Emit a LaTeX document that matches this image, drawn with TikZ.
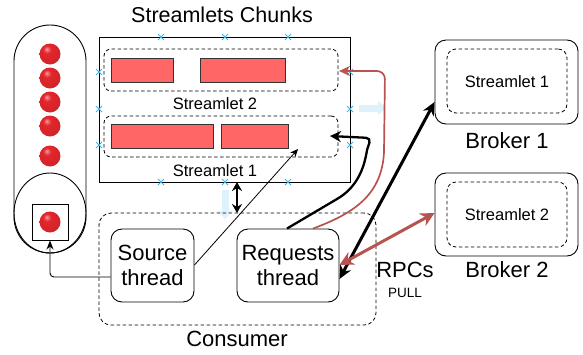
\documentclass[tikz,border=0pt]{standalone}
\usepackage{fontspec}
\setmainfont{Liberation Sans}
\usetikzlibrary{arrows.meta,shapes.geometric,shapes.misc}
\definecolor{rpcred}{HTML}{B85450}
\definecolor{chunkred}{HTML}{FF6666}
\definecolor{ballred}{HTML}{E3262C}
\definecolor{markblue}{HTML}{3DB4EC}
\definecolor{hintblue}{HTML}{DDF2FA}
\pgfdeclareradialshading{redball}{\pgfpoint{-8bp}{12bp}}{%
  color(0bp)=(white!55!ballred); color(9bp)=(ballred); color(30bp)=(ballred!92!black);
  color(50bp)=(ballred!70!black); color(70bp)=(ballred!60!black)}
\begin{document}
\begin{tikzpicture}[x=1pt,y=-1pt,
  txtL/.style={font=\fontsize{22}{25}\selectfont, align=center},
  txtM/.style={font=\fontsize{16.5}{19}\selectfont},
  chunk/.style={draw=black!80, fill=chunkred, line width=1pt, minimum height=24pt, inner sep=0pt},
  dbox/.style={draw, dash pattern=on 3.5pt off 2.5pt, line width=0.8pt, rounded corners=7pt, inner sep=0pt},
  thread/.style={draw, line width=0.9pt, rounded corners=11pt, inner sep=0pt, txtL},
  broker/.style={draw, line width=0.9pt, rounded corners=11pt, inner sep=0pt, minimum width=143pt},
  ball/.style={circle, shading=redball, minimum size=21pt, inner sep=0pt},
  xmark/.style={cross out, draw=markblue, line width=1pt, minimum size=5pt, inner sep=0pt},
  hint/.style={draw=hintblue, line width=7pt, -{Triangle[length=8pt,width=14pt]}},
  blkb/.style={line width=3pt, {Stealth[length=13pt,width=12pt]}-{Stealth[length=13pt,width=12pt]}},
  redb/.style={rpcred, line width=3pt, {Stealth[length=14pt,width=14pt]}-{Stealth[length=14pt,width=14pt]}},
]
\useasboundingbox (0,0) rectangle (583,354);

% left capsule (source)
\node[draw, line width=0.9pt, rounded corners=36pt, minimum width=72pt, minimum height=228pt, inner sep=0pt] (caps) at (50,139) {};
\node[draw, ellipse, line width=0.9pt, minimum width=72pt, minimum height=80pt, inner sep=0pt] (circ) at (50,213) {};
\node[draw, line width=1pt, minimum width=36pt, minimum height=36pt, inner sep=0pt] (sq) at (50,222) {};
\node[ball] (b1) at (50,54) {};
\node[ball] (b2) at (50,78) {};
\node[ball] (b3) at (50,102) {};
\node[ball] (b4) at (50,126) {};
\node[ball] (b5) at (50,156) {};
\node[ball] (b6) at (50,222) {};

% streamlets chunks
\node[txtL, font=\fontsize{21.5}{24}\selectfont] (title) at (222,15) {Streamlets Chunks};
\node[draw, line width=0.9pt, minimum width=251pt, minimum height=145pt, inner sep=0pt] (chunks) at (224.5,109.5) {};
\node[dbox, minimum width=234pt, minimum height=42pt] (s2) at (221,70) {};
\node[chunk, minimum width=62pt] (c21) at (142,70) {};
\node[chunk, minimum width=85pt] (c22) at (242.5,70) {};
\node[txtM] (s2lab) at (215,104) {Streamlet 2};
\node[dbox, minimum width=234pt, minimum height=41pt] (s1) at (221,136.5) {};
\node[chunk, minimum width=102pt] (c11) at (162,136) {};
\node[chunk, minimum width=67pt] (c12) at (254.5,136) {};
\node[txtM] (s1lab) at (215,171) {Streamlet 1};

% connection markers
\foreach \i/\x in {1/161,2/225,3/288} {
  \node[xmark] (mt\i) at (\x,37) {};
  \node[xmark] (mb\i) at (\x,182) {};
}
\foreach \i/\y in {1/72,2/109,3/145} {
  \node[xmark] (ml\i) at (99,\y) {};
  \node[xmark] (mr\i) at (350,\y) {};
}
\coordinate (hd1) at (225,190);
\coordinate (hd2) at (225,219);
\coordinate (hr1) at (359,108);
\coordinate (hr2) at (386,108);
\draw[hint] (hd1) -- (hd2);
\draw[hint] (hr1) -- (hr2);

% consumer
\node[dbox, rounded corners=12pt, minimum width=277pt, minimum height=112pt] (cons) at (237.5,269) {};
\node[txtL] (conslab) at (237,339) {Consumer};
\node[thread, minimum width=83pt, minimum height=73pt] (src) at (152.5,265.5) {Source\\thread};
\node[thread, minimum width=102pt, minimum height=73pt] (req) at (288,265.5) {Requests\\thread};

% brokers
\node[broker, minimum height=84pt] (br1) at (506.5,82) {};
\node[dbox, rounded corners=9pt, minimum width=120pt, minimum height=64pt] (br1s) at (507,81) {};
\node[txtM] (br1t) at (507,82) {Streamlet 1};
\node[txtL] (br1lab) at (507,141) {Broker 1};
\node[broker, minimum height=83pt] (br2) at (506.5,214.5) {};
\node[dbox, rounded corners=9pt, minimum width=120pt, minimum height=65pt] (br2s) at (507,214.5) {};
\node[txtM] (br2t) at (507,215) {Streamlet 2};
\node[txtL] (br2lab) at (507,270) {Broker 2};
\node[txtL] (rpc) at (405,270) {RPCs};
\node[font=\fontsize{13.5}{15}\selectfont] (pull) at (405,293) {PULL};

% connectors
\draw[line width=0.9pt, rounded corners=4pt, -{Stealth[length=9pt,width=7pt]}] ([yshift=-11.5pt]src.west) -| (sq.south);
\coordinate (thinend) at (298,149);
\draw[line width=0.8pt, -{Stealth[length=8pt,width=7pt]}] ([yshift=0.5pt]src.east) -- (thinend);
\coordinate (va) at (237,182);
\coordinate (vb) at (237,213);
\draw[line width=2.4pt, {Stealth[length=9pt,width=10pt]}-{Stealth[length=9pt,width=10pt]}] (va) -- (vb);

\coordinate (blkend) at (330,136);
\draw[line width=2.3pt, -{Stealth[length=11pt,width=11pt]}] ([xshift=-1pt]req.north) -- (337,199) .. controls (356,188) and (364,170) .. (367,150) [rounded corners=5pt] -- (371,138) -- (blkend);
\coordinate (redend) at (339,71);
\draw[rpcred, line width=1.7pt, -{Stealth[length=11pt,width=10pt]}] ([xshift=25pt]req.north) .. controls (352,214) and (382,196) .. (384,152) [rounded corners=8pt] -- (385,71) -- (redend);

\draw[blkb] ([yshift=-13.5pt]req.east) -- ([yshift=-20pt]br1.west);
\draw[redb] ([yshift=0.5pt]req.east) -- ([yshift=1.5pt]br2.west);
\end{tikzpicture}
\end{document}
